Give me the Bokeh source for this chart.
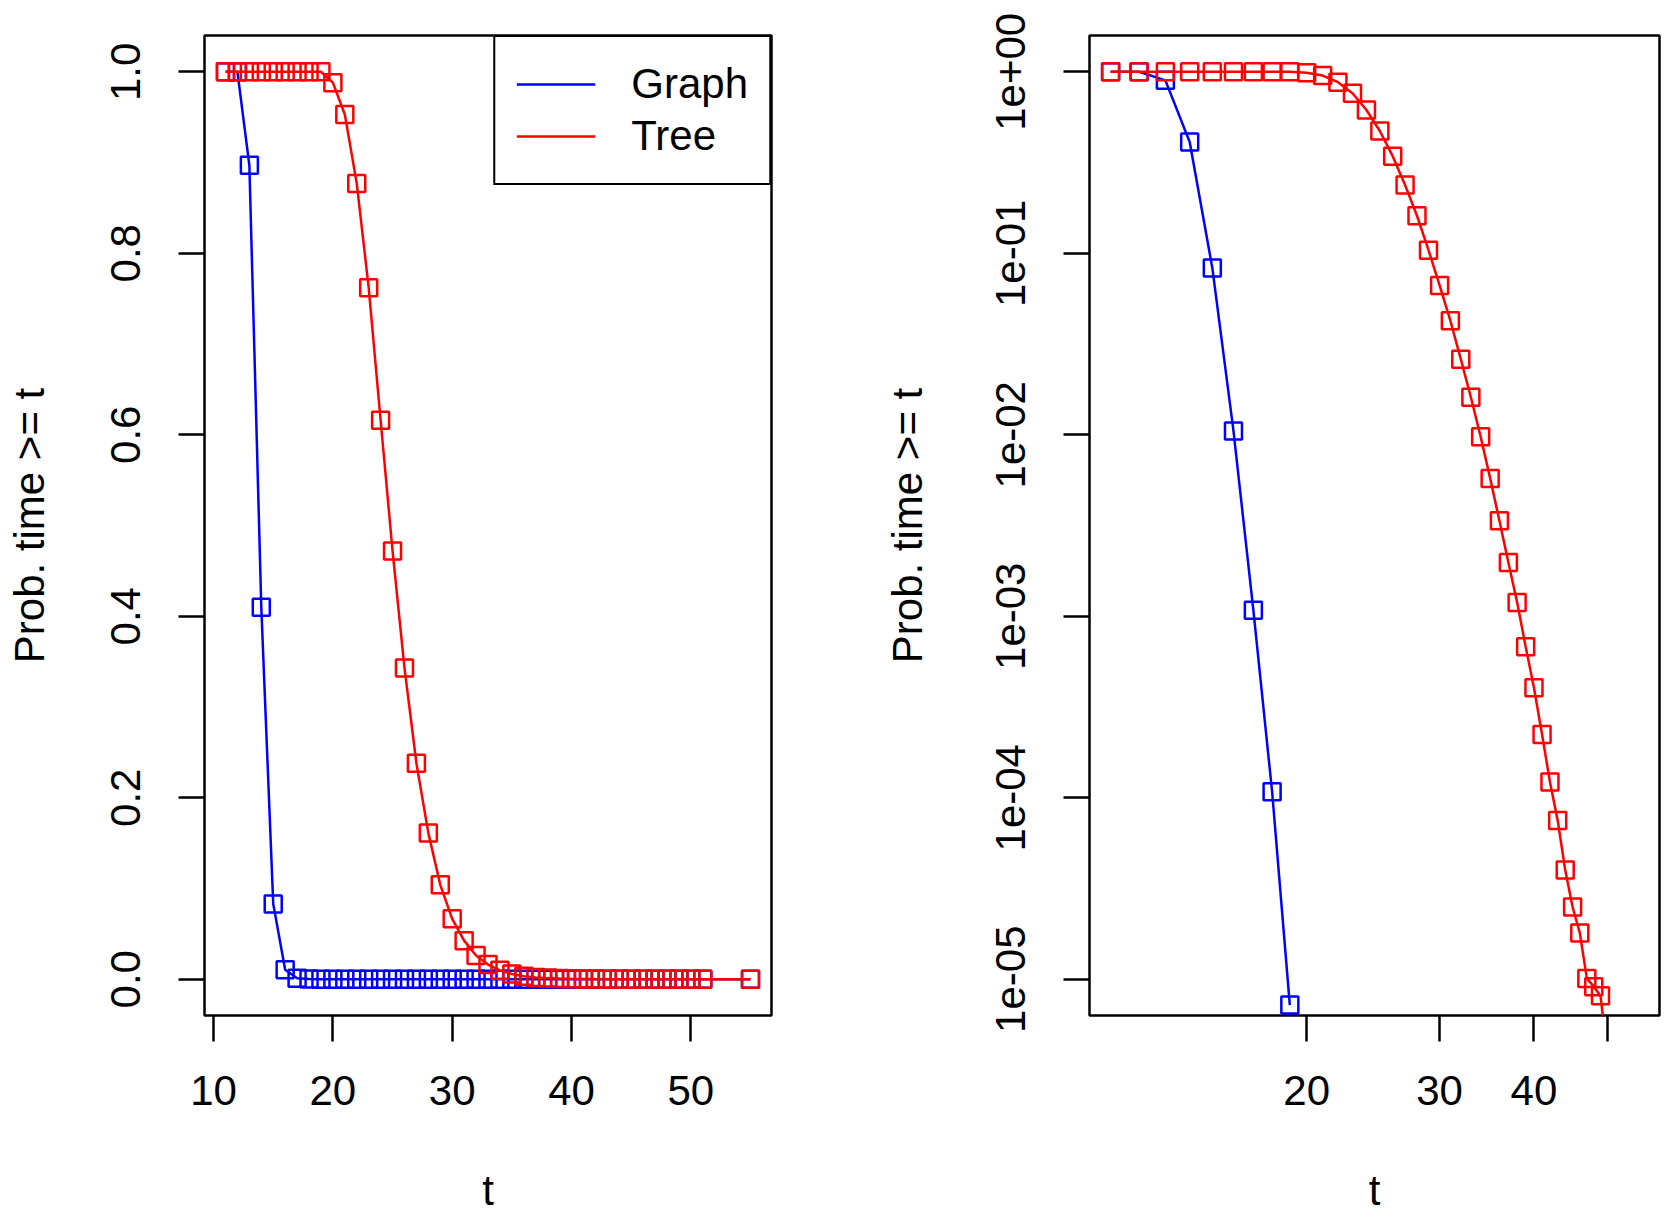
import math

from bokeh.embed import file_html
from bokeh.layouts import row
from bokeh.models import ColumnDataSource, FixedTicker, Legend, LegendItem, Range1d
from bokeh.plotting import figure
from bokeh.resources import INLINE

# ---- data: probability that the hitting time is >= t ----
t = list(range(11, 52)) + [55]

graph = [1.0, 1.0, 0.897, 0.41, 0.083, 0.0105, 0.00108, 0.000108, 0.0000072] + [0.0] * 33

tree = [1.0, 1.0, 1.0, 1.0, 1.0, 1.0, 1.0, 1.0, 1.0,          # 11-19
        0.988, 0.953, 0.877, 0.762, 0.616, 0.472, 0.343,       # 20-26
        0.238, 0.161, 0.104, 0.0665, 0.0425, 0.0261, 0.0161,   # 27-33
        0.00975, 0.00575, 0.00336, 0.00198, 0.00119, 0.00068,  # 34-39
        0.000404, 0.000223, 0.000122, 0.000075, 0.00004,       # 40-44
        0.000025, 0.000018, 0.0000101, 0.0000091, 0.0000081,   # 45-49
        0.000004, 0.000002, 0.000001]                          # 50, 51, 55

series_names = ["Graph", "Tree"]

# ---- tick positions and labels ----
lin_x_ticks = [10, 20, 30, 40, 50]
lin_y_ticks = [0.0, 0.2, 0.4, 0.6, 0.8, 1.0]
lin_y_labels = ["0.0", "0.2", "0.4", "0.6", "0.8", "1.0"]

log_x_ticks = [20, 30, 40, 50]
log_x_labels = ["20", "30", "40", ""]
log_y_ticks = [1e-05, 1e-04, 1e-03, 1e-02, 1e-01, 1e+00]
log_y_labels = ["1e-05", "1e-04", "1e-03", "1e-02", "1e-01", "1e+00"]
log_y_limits = [1e-05, 1.0]

x_label = "t"
y_label = "Prob. time >= t"

BLUE = "#0000FF"
RED = "#FF0000"
FONT = "Liberation Sans"
FSIZE = "42px"
LW = 2.5
MSIZE = 17


def padded(lo, hi, frac=0.04):
    d = (hi - lo) * frac
    return lo - d, hi + d


def style(p, ylabel_gap):
    p.outline_line_color = "black"
    p.outline_line_width = LW
    p.outline_line_alpha = 1.0
    p.background_fill_color = "white"
    p.border_fill_color = "white"
    for g in p.grid:
        g.visible = False
    for ax in p.axis:
        ax.axis_line_color = None
        ax.major_tick_line_color = "black"
        ax.major_tick_line_width = LW
        ax.major_tick_out = 26
        ax.major_tick_in = 0
        ax.minor_tick_line_color = None
        ax.minor_tick_out = 0
        ax.minor_tick_in = 0
        ax.major_label_text_font = FONT
        ax.major_label_text_font_size = FSIZE
        ax.major_label_text_color = "black"
        ax.axis_label_text_font = FONT
        ax.axis_label_text_font_size = FSIZE
        ax.axis_label_text_font_style = "normal"
        ax.axis_label_text_color = "black"
    p.xaxis.major_label_standoff = 34
    p.xaxis.axis_label_standoff = 59
    p.yaxis.major_label_standoff = 38
    p.yaxis.axis_label_standoff = ylabel_gap
    p.yaxis.major_label_orientation = "vertical"


# ---- left panel: linear axes ----
xlo, xhi = padded(min(t), max(t))
ylo, yhi = padded(0.0, 1.0)

p1 = figure(width=840, height=1226, output_backend="svg", toolbar_location=None,
            x_range=Range1d(xlo, xhi), y_range=Range1d(ylo, yhi),
            min_border_left=204, min_border_right=69,
            min_border_top=35, min_border_bottom=211,
            x_axis_label=x_label, y_axis_label=y_label)
style(p1, 56)
p1.xaxis.ticker = FixedTicker(ticks=lin_x_ticks)
p1.yaxis.ticker = FixedTicker(ticks=lin_y_ticks)
p1.yaxis.major_label_overrides = dict(zip(lin_y_ticks, lin_y_labels))

src = ColumnDataSource(dict(t=t, graph=graph, tree=tree))
bl = p1.line("t", "graph", source=src, line_color=BLUE, line_width=LW)
p1.scatter("t", "graph", source=src, marker="square", size=MSIZE,
           fill_color=None, line_color=BLUE, line_width=LW)
rl = p1.line("t", "tree", source=src, line_color=RED, line_width=LW)
p1.scatter("t", "tree", source=src, marker="square", size=MSIZE,
           fill_color=None, line_color=RED, line_width=LW)

legend = Legend(items=[LegendItem(label=series_names[0], renderers=[bl]),
                       LegendItem(label=series_names[1], renderers=[rl])],
                location="top_right", margin=0, padding=21, spacing=0,
                glyph_width=79, glyph_height=52, label_height=52,
                label_standoff=36,
                label_text_font=FONT, label_text_font_size=FSIZE,
                label_text_color="black",
                border_line_color="black", border_line_width=LW,
                border_line_alpha=1.0, background_fill_color="white",
                background_fill_alpha=1.0)
p1.add_layout(legend)

# ---- right panel: log-log axes (non-positive values are left out) ----
lx0, lx1 = padded(math.log10(min(t)), math.log10(max(t)))
ly0, ly1 = padded(math.log10(log_y_limits[0]), math.log10(log_y_limits[1]))

p2 = figure(width=840, height=1226, output_backend="svg", toolbar_location=None,
            x_axis_type="log", y_axis_type="log",
            x_range=Range1d(10 ** lx0, 10 ** lx1), y_range=Range1d(10 ** ly0, 10 ** ly1),
            min_border_left=249, min_border_right=21,
            min_border_top=35, min_border_bottom=211,
            x_axis_label=x_label, y_axis_label=y_label)
style(p2, 63)
p2.xaxis.ticker = FixedTicker(ticks=log_x_ticks)
p2.xaxis.major_label_overrides = dict(zip(log_x_ticks, log_x_labels))
p2.yaxis.ticker = FixedTicker(ticks=log_y_ticks)
p2.yaxis.major_label_overrides = dict(zip(log_y_ticks, log_y_labels))

nan = float("nan")
src_log = ColumnDataSource(dict(
    t=t,
    graph=[v if v > 0 else nan for v in graph],
    tree=[v if v > 0 else nan for v in tree],
))
p2.line("t", "graph", source=src_log, line_color=BLUE, line_width=LW)
p2.scatter("t", "graph", source=src_log, marker="square", size=MSIZE,
           fill_color=None, line_color=BLUE, line_width=LW)
p2.line("t", "tree", source=src_log, line_color=RED, line_width=LW)
p2.scatter("t", "tree", source=src_log, marker="square", size=MSIZE,
           fill_color=None, line_color=RED, line_width=LW)

layout = row(p1, p2)
open("out.html", "w").write(file_html(layout, INLINE))
